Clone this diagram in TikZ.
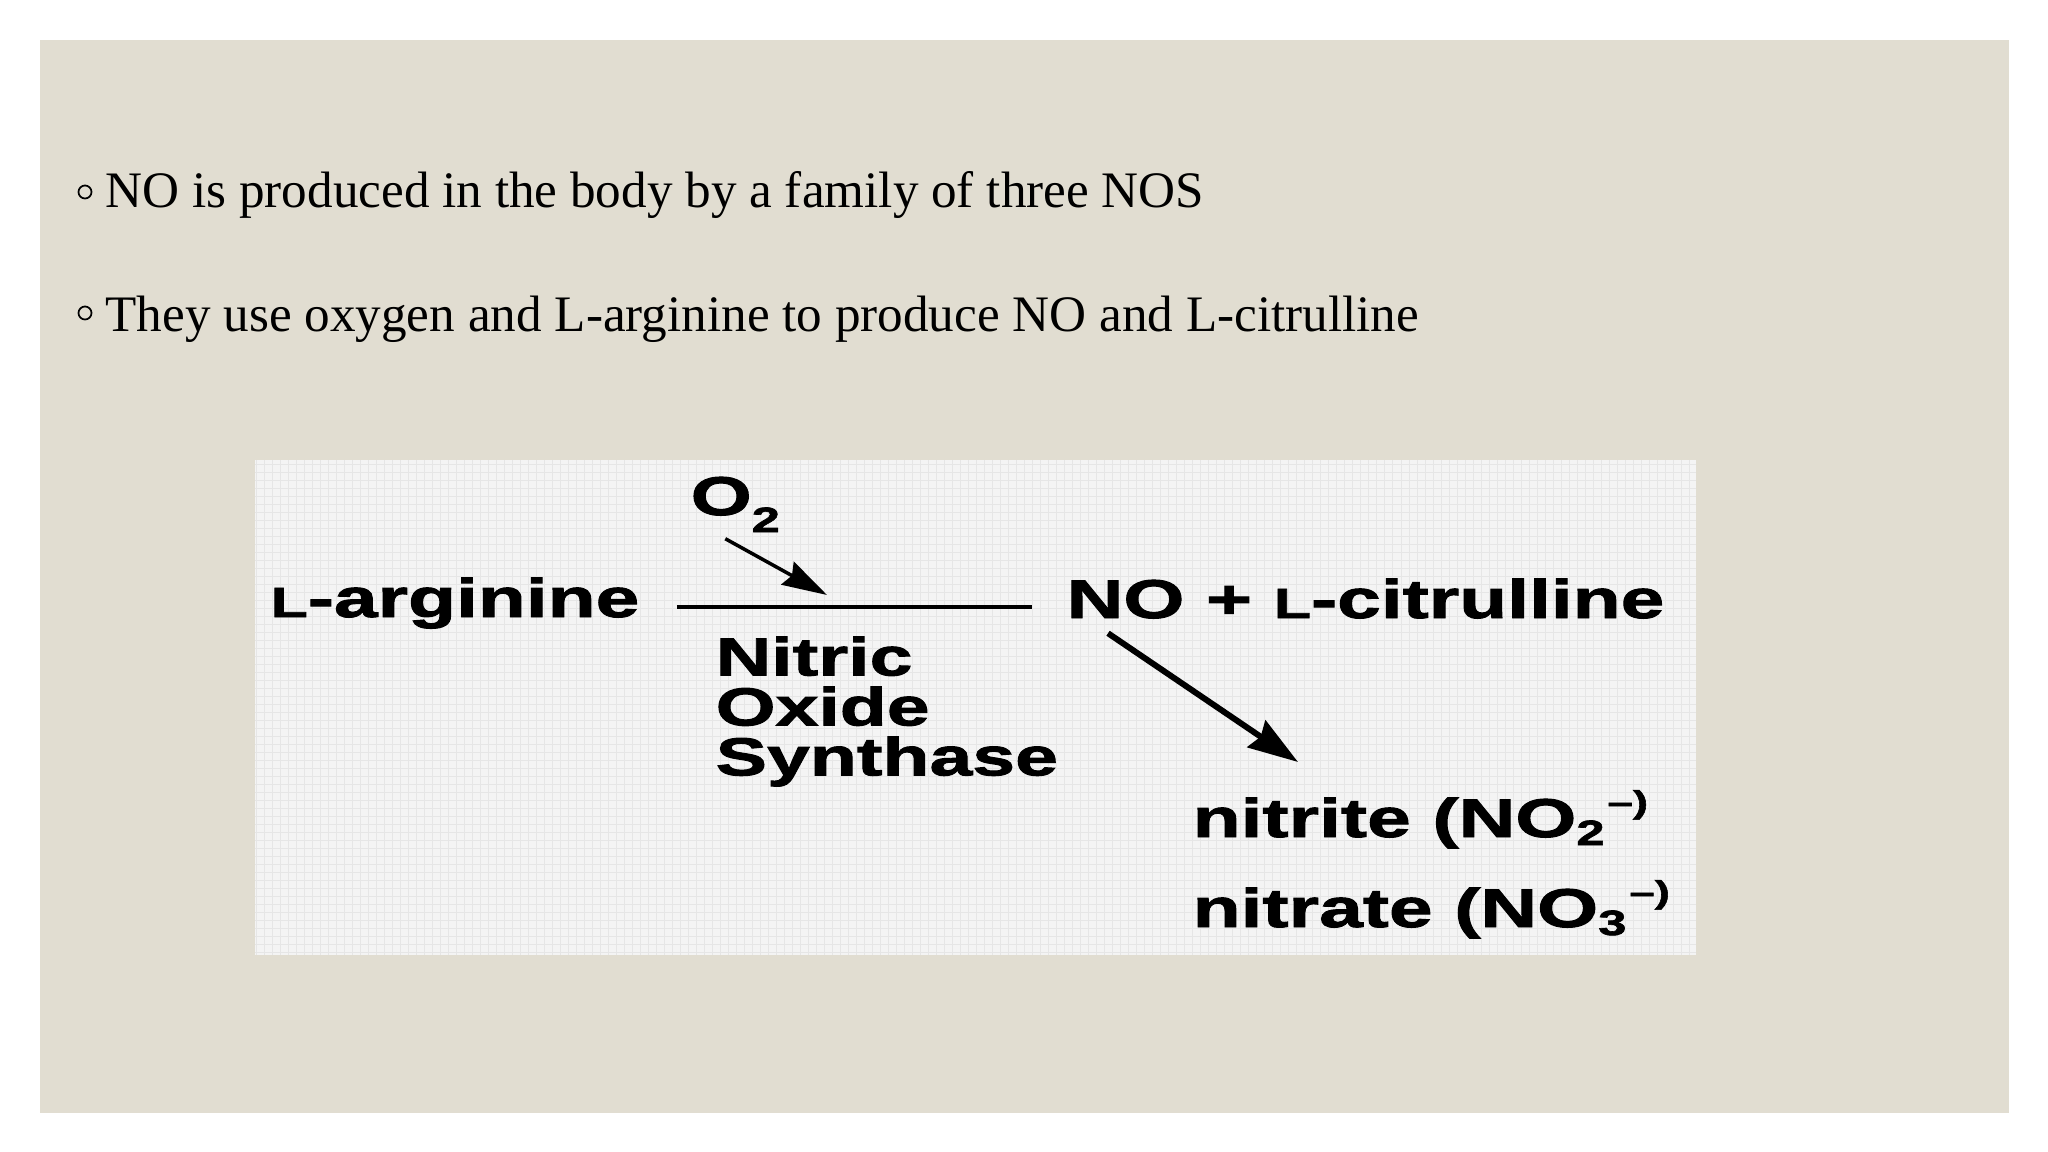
\documentclass[tikz,border=0pt]{standalone}
\usepackage{fontspec}
\setmainfont{Liberation Serif}
\newfontfamily\chemfont{Liberation Sans}[FakeStretch=1.44,FakeBold=1.8]
\usetikzlibrary{arrows.meta}

\definecolor{panel}{HTML}{E1DDD1}
\definecolor{sheet}{HTML}{F4F4F4}
\definecolor{sheetgrid}{HTML}{E6E6E6}

\newcommand\smallL{{\fontsize{12}{12}\selectfont L}}
\newcommand\ionpart[1]{\raisebox{-0.08cm}{\fontsize{10}{10}\selectfont #1}\kern0.03cm\raisebox{0.24cm}{\fontsize{9}{9}\selectfont \textendash)}}

\begin{document}
\begin{tikzpicture}[x=0.01cm,y=-0.01cm,
  bullettext/.style={anchor=base west,inner sep=0pt,font=\fontsize{14.55}{17}\selectfont},
  bulletmark/.style={circle,draw,line width=0.5pt,inner sep=0pt,minimum size=0.13cm},
  chem/.style={anchor=base west,inner sep=0pt,font=\chemfont\bfseries\fontsize{15.5}{15.5}\selectfont},
  enzyme/.style={anchor=north west,inner sep=0pt,align=left,font=\chemfont\bfseries\fontsize{15.2}{14.2}\selectfont},
  rxnline/.style={line width=1.4pt},
  thinarrow/.style={line width=1pt,-{Stealth[length=0.45cm,width=0.26cm,inset=0.05cm]}},
  thickarrow/.style={line width=1.7pt,-{Stealth[length=0.5cm,width=0.32cm,inset=0.05cm]}}]

\useasboundingbox (0,0) rectangle (2048,1152);

% slide
\fill[white] (0,0) rectangle (2048,1152);
\fill[panel] (40,40) rectangle (2009,1113);

% bullets
\node[bulletmark] (m1) at (85,192) {};
\node[bullettext] (t1) at (105,208) {NO is produced in the body by a family of three NOS};
\node[bulletmark] (m2) at (85,313) {};
\node[bullettext] (t2) at (105,332) {They use oxygen and L-arginine to produce NO and L-citrulline};

% figure sheet
\fill[sheet] (255,460) rectangle (1696,955);
\draw[sheetgrid,line width=0.2pt,step=0.08cm] (255,460) grid (1696,955);

% reaction
\node[chem] (arg) at (270,617) {\smallL-arginine};
\node[chem] (prod) at (1066,618) {NO + \smallL-citrulline};
\node[chem] (o2) at (690,515) {O\raisebox{-0.17cm}{\fontsize{10}{10}\selectfont 2}};
\node[enzyme] (nos) at (715,636) {Nitric\\Oxide\\Synthase};
\node[chem] (nitrite) at (1192,837) {nitrite (NO\ionpart{2}};
\node[chem] (nitrate) at (1192,927) {nitrate (NO\ionpart{3}};

\coordinate (join) at (827,595);
\coordinate (down) at (1298,762);

\draw[rxnline] ([xshift=0.37cm,yshift=0.1cm]arg.base east) -- ([xshift=-0.34cm,yshift=0.11cm]prod.base west);
\draw[thinarrow] ([xshift=-0.1cm,yshift=-0.06cm]o2.south) -- (join);
\draw[thickarrow] ([xshift=0.42cm,yshift=-0.14cm]prod.south west) -- (down);

\end{tikzpicture}
\end{document}
